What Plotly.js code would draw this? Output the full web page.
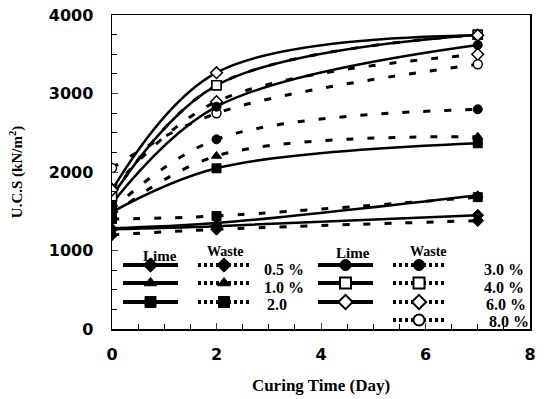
<!DOCTYPE html>
<html>
<head>
<meta charset="utf-8">
<script src="https://cdn.plot.ly/plotly-3.0.1.min.js"></script>
<style>html,body{margin:0;padding:0;background:#fff;}#chart{width:544px;height:399px;}</style>
</head>
<body>
<div id="chart"></div>
<script>
// ---- data ----
const days = [0, 2, 7];
const limeLabels = ["0.5 %", "1.0 %", "2.0", "3.0 %", "4.0 %", "6.0 %"];
const lime05 = [1270, 1310, 1450];
const lime10 = [1285, 1350, 1705];
const lime20 = [1490, 2047, 2366];
const lime30 = [1600, 2832, 3618];
const lime40 = [1690, 3104, 3750];
const lime60 = [1770, 3265, 3742];
const wasteLabels = ["0.5 %", "1.0 %", "2.0", "3.0 %", "4.0 %", "6.0 %", "8.0 %"];
const waste05 = [1200, 1270, 1380];
const waste10 = [1450, 2204, 2450];
const waste20 = [1400, 1440, 1680];
const waste30 = [1520, 2416, 2799];
const waste40 = [1690, 3104, 3750];
const waste60 = [1780, 2896, 3499];
const waste80 = [2050, 2748, 3372];
const yTicks = [0, 1000, 2000, 3000, 4000];
const xTicks = [0, 2, 4, 6, 8];

// ---- styles ----
const filled = s => ({symbol: s, size: 9, color: '#000', opacity: 1, line: {color: '#000', width: 1}});
const open = s => ({symbol: s, size: 9, color: '#fff', opacity: 1, line: {color: '#000', width: 1.5}});
const limeSeries = [
  [lime05, filled('diamond')], [lime10, filled('triangle-up')], [lime20, filled('square')],
  [lime30, filled('circle')], [lime40, open('square')], [lime60, open('diamond')]
];
const wasteSeries = [
  [waste05, filled('diamond')], [waste10, filled('triangle-up')], [waste20, filled('square')],
  [waste30, filled('circle')], [waste40, open('square')], [waste60, open('diamond')], [waste80, open('circle')]
];

const traces = [];
wasteSeries.forEach((s, i) => traces.push({
  x: days, y: s[0], type: 'scatter', mode: 'lines+markers', name: 'Waste ' + wasteLabels[i],
  line: {color: '#000', width: 3, dash: '7px,14px', shape: 'spline'}, marker: s[1],
  showlegend: false, hoverinfo: 'skip'
}));
limeSeries.forEach((s, i) => traces.push({
  x: days, y: s[0], type: 'scatter', mode: 'lines+markers', name: 'Lime ' + limeLabels[i],
  line: {color: '#000', width: 2.5, shape: 'spline'}, marker: s[1],
  showlegend: false, hoverinfo: 'skip'
}));

// ---- custom legend (pixel layout converted to plot-area fractions) ----
const L = 112, R = 530, T = 15, B = 329, W = 544, H = 399;
const px = x => (x - L) / (R - L);
const py = y => (B - y) / (B - T);
const rows = [265, 283, 302, 320];
const cols = [
  {x0: 123, x1: 178, solid: true},
  {x0: 198, x1: 250, solid: false},
  {x0: 318, x1: 373, solid: true},
  {x0: 393, x1: 445, solid: false}
];
const legendItems = [
  [0, 0, limeSeries[0][1]], [0, 1, limeSeries[1][1]], [0, 2, limeSeries[2][1]],
  [1, 0, wasteSeries[0][1]], [1, 1, wasteSeries[1][1]], [1, 2, wasteSeries[2][1]],
  [2, 0, limeSeries[3][1]], [2, 1, limeSeries[4][1]], [2, 2, limeSeries[5][1]],
  [3, 0, wasteSeries[3][1]], [3, 1, wasteSeries[4][1]], [3, 2, wasteSeries[5][1]], [3, 3, wasteSeries[6][1]]
];
legendItems.forEach(([c, r, m]) => {
  const col = cols[c], y = py(rows[r]);
  traces.push({
    x: [px(col.x0), px((col.x0 + col.x1) / 2), px(col.x1)], y: [y, y, y],
    xaxis: 'x2', yaxis: 'y2', type: 'scatter', mode: 'lines+markers',
    line: {color: '#000', width: 4, dash: col.solid ? 'solid' : '3px,3px'},
    marker: Object.assign({}, m, {size: [0, 11, 0], opacity: 1, line: {color: '#000', width: m.color === '#fff' ? 2 : 1}}),
    showlegend: false, hoverinfo: 'skip'
  });
});

const serif = {family: '"Liberation Serif", "Times New Roman", serif', color: '#000', weight: 'bold'};
const ann = (text, x, y, size, xanchor) => ({
  text: text, xref: 'paper', yref: 'paper', x: px(x), y: py(y), xanchor: xanchor || 'center', yanchor: 'middle',
  showarrow: false, font: Object.assign({}, serif, {size: size})
});
const annotations = [
  ann('Lime', 160, 256, 15), ann('Waste', 225, 252, 14), ann('Lime', 353, 253, 15), ann('Waste', 428, 252, 14),
  ann(limeLabels[0], 262, 269, 16, 'left'), ann(limeLabels[1], 262, 287, 16, 'left'), ann(limeLabels[2], 265, 304, 16, 'left'),
  ann(wasteLabels[3], 526, 269, 16, 'right'), ann(wasteLabels[4], 526, 287, 16, 'right'),
  ann(wasteLabels[5], 528, 304, 16, 'right'), ann(wasteLabels[6], 531, 321, 16, 'right')
];

const tickFont = {family: '"DejaVu Sans", "Liberation Sans", Arial, sans-serif', size: 16, color: '#000', weight: 'bold'};
const layout = {
  width: W, height: H,
  margin: {l: L, r: W - R, t: T, b: H - B},
  paper_bgcolor: '#fff', plot_bgcolor: '#fff',
  showlegend: false,
  xaxis: {
    range: [0, 8], tickvals: xTicks, ticktext: xTicks.map(String), ticks: 'inside', ticklen: 6, tickwidth: 1,
    minor: {dtick: 0.5, ticks: 'inside', ticklen: 5, tickwidth: 1, tickcolor: '#000'},
    showline: true, linecolor: '#000', linewidth: 1.5, mirror: true, showgrid: false, zeroline: false,
    tickfont: tickFont, ticklabelstandoff: 10,
    title: {text: 'Curing Time (Day)', font: Object.assign({}, serif, {size: 17}), standoff: 16}
  },
  yaxis: {
    range: [0, 4000], tickvals: yTicks, ticktext: yTicks.map(String), ticks: 'inside', ticklen: 6, tickwidth: 1,
    minor: {dtick: 250, ticks: 'inside', ticklen: 5, tickwidth: 1, tickcolor: '#000'},
    showline: true, linecolor: '#000', linewidth: 1.5, mirror: true, showgrid: false, zeroline: false,
    tickfont: tickFont, ticklabelstandoff: 14,
    title: {text: 'U.C.S (kN/m<sup>2</sup>)', font: Object.assign({}, serif, {size: 15}), standoff: 22}
  },
  xaxis2: {overlaying: 'x', range: [0, 1], visible: false, fixedrange: true},
  yaxis2: {overlaying: 'y', range: [0, 1], visible: false, fixedrange: true},
  annotations: annotations
};
Plotly.newPlot('chart', traces, layout, {staticPlot: true, displayModeBar: false});
</script>
</body>
</html>
